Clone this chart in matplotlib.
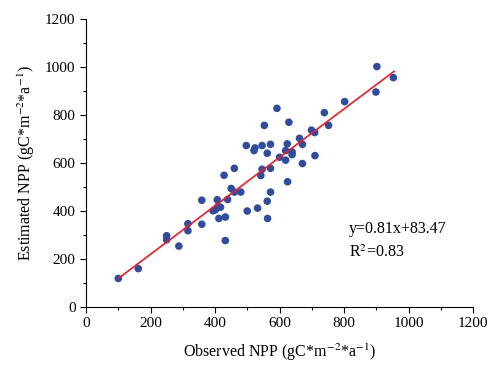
import numpy as np
import matplotlib.pyplot as plt
from matplotlib.ticker import MultipleLocator

plt.rcParams['font.family'] = ['Liberation Serif', 'DejaVu Serif']
plt.rcParams['mathtext.fontset'] = 'stix'

# observed vs estimated NPP (gC m-2 a-1)
observed = [100, 162, 250, 250, 288, 316, 316, 359, 359, 394, 401, 407, 409, 417,
            412, 432, 432, 439, 428, 450, 460, 460, 480, 497, 500, 521, 524, 532,
            546, 542, 546, 553, 562, 562, 563, 572, 572, 572, 592, 600, 619, 619,
            624, 625, 629, 639, 639, 662, 671, 671, 699, 709, 710, 739, 752, 802,
            899, 902, 953]
estimated = [119, 160, 297, 280, 254, 347, 318, 445, 345, 401, 405, 447, 419, 416,
             369, 375, 277, 448, 549, 494, 578, 479, 479, 673, 400, 652, 663, 412,
             673, 548, 574, 757, 641, 441, 369, 678, 578, 479, 828, 624, 652, 612,
             680, 522, 770, 646, 635, 703, 678, 598, 737, 727, 631, 810, 757, 856,
             896, 1002, 956]

# fitted line as drawn
fit_x = [102, 955]
fit_y = [121, 982]

fig = plt.figure(figsize=(4.92, 3.67), dpi=100)
ax = fig.add_axes([0.1748, 0.1635, 0.7866, 0.7845])

ax.scatter(observed, estimated, s=30, color='#2f4da0', edgecolors='none', zorder=3)
ax.plot(fit_x, fit_y, color='#ee1c25', lw=1.2, zorder=4)

ax.text(815, 310, 'y=0.81x+83.47', fontsize=11.5)
ax.text(815, 210, r'R$^{2}$=0.83', fontsize=11.5)

ax.set_xlim(0, 1200)
ax.set_ylim(0, 1200)
ax.xaxis.set_major_locator(MultipleLocator(200))
ax.xaxis.set_minor_locator(MultipleLocator(100))
ax.yaxis.set_major_locator(MultipleLocator(200))
ax.yaxis.set_minor_locator(MultipleLocator(100))
ax.tick_params(which='major', direction='out', length=4, width=0.8, labelsize=11)
ax.tick_params(which='minor', direction='out', length=2.5, width=0.8)

ax.spines['top'].set_visible(False)
ax.spines['right'].set_visible(False)

ax.set_xlabel(r'Observed NPP (gC*m$^{-2}$*a$^{-1}$)', fontsize=11.5, labelpad=8)
ax.set_ylabel(r'Estimated NPP (gC*m$^{-2}$*a$^{-1}$)', fontsize=11.5, labelpad=6)

fig.savefig('out.png', dpi=100)
